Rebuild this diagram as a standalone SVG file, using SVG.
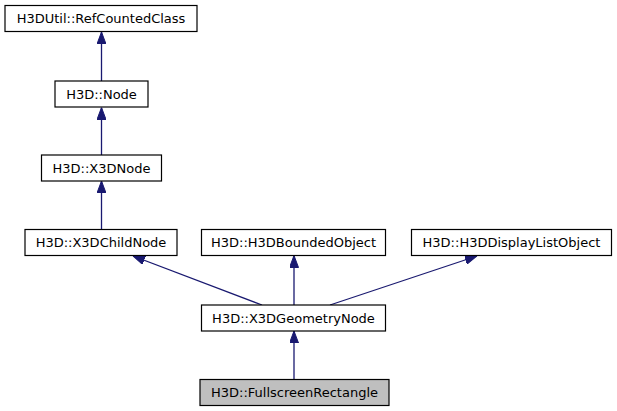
<svg xmlns="http://www.w3.org/2000/svg" width="617" height="411" viewBox="0 0 617 411">
<style>
.box{fill:#ffffff;stroke:#000000;stroke-width:1.2}
.cur{fill:#bfbfbf;stroke:#000000;stroke-width:1.2}
text{font-family:"DejaVu Sans","Liberation Sans",sans-serif;font-size:13px;text-anchor:middle;fill:#000000}
.edge{stroke:#191970;stroke-width:1.3;fill:none}
</style>
<defs>
<marker id="ah" viewBox="0 0 12 9" markerWidth="12" markerHeight="9" refX="12" refY="4.5" orient="auto" markerUnits="userSpaceOnUse">
<path d="M0,0 L12,4.5 L0,9 Z" fill="#191970" stroke="#191970" stroke-width="1"/>
</marker>
</defs>
<rect width="617" height="411" fill="#ffffff"/>
<g id="connectors">
<line class="edge" x1="101.5" y1="81" x2="101.5" y2="32" marker-end="url(#ah)"/>
<line class="edge" x1="101.5" y1="155" x2="101.5" y2="107.5" marker-end="url(#ah)"/>
<line class="edge" x1="101.5" y1="229.5" x2="101.5" y2="181" marker-end="url(#ah)"/>
<line class="edge" x1="262" y1="305" x2="133" y2="256" marker-end="url(#ah)"/>
<line class="edge" x1="294" y1="305" x2="294" y2="255.5" marker-end="url(#ah)"/>
<line class="edge" x1="330" y1="305" x2="477" y2="256" marker-end="url(#ah)"/>
<line class="edge" x1="294" y1="379.5" x2="294" y2="331" marker-end="url(#ah)"/>
</g>
<g id="RefCountedClass">
<rect class="box" x="5" y="5.5" width="192" height="26"/>
<text x="101" y="23">H3DUtil::RefCountedClass</text>
</g>
<g id="Node">
<rect class="box" x="55" y="81" width="93" height="26"/>
<text x="101.5" y="98.5">H3D::Node</text>
</g>
<g id="X3DNode">
<rect class="box" x="41.5" y="155" width="120" height="26"/>
<text x="101.5" y="172.5">H3D::X3DNode</text>
</g>
<g id="X3DChildNode">
<rect class="box" x="25" y="229.5" width="152" height="26"/>
<text x="101" y="247">H3D::X3DChildNode</text>
</g>
<g id="H3DBoundedObject">
<rect class="box" x="201.5" y="229.5" width="184" height="26"/>
<text x="293.5" y="247">H3D::H3DBoundedObject</text>
</g>
<g id="H3DDisplayListObject">
<rect class="box" x="411.5" y="229.5" width="200" height="26"/>
<text x="511.5" y="247">H3D::H3DDisplayListObject</text>
</g>
<g id="X3DGeometryNode">
<rect class="box" x="201.5" y="305" width="184" height="26"/>
<text x="293.5" y="322.5">H3D::X3DGeometryNode</text>
</g>
<g id="FullscreenRectangle">
<rect class="cur" x="200" y="379.5" width="189" height="26"/>
<text x="294.5" y="397">H3D::FullscreenRectangle</text>
</g>
</svg>
